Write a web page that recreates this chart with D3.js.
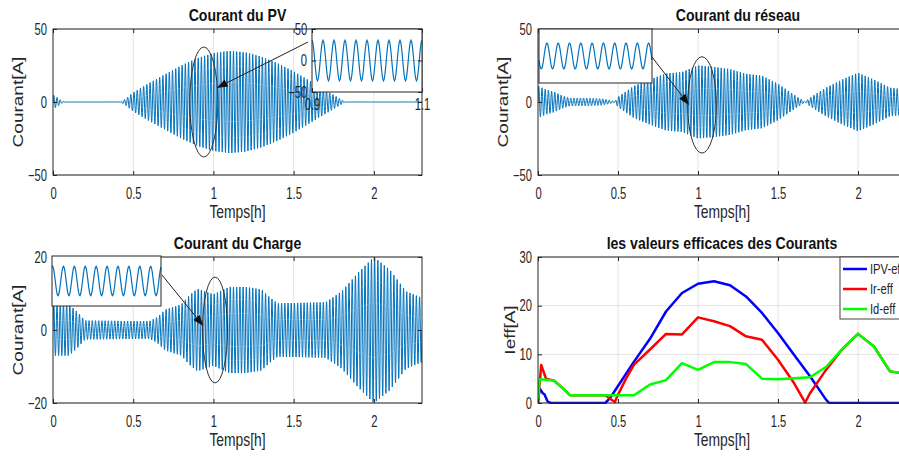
<!DOCTYPE html>
<html>
<head>
<meta charset="utf-8">
<script src="https://cdn.jsdelivr.net/npm/d3@7"></script>
<style>
  body { margin: 0; background: #fff; overflow: hidden; }
  svg { display: block; font-family: "Liberation Sans", Arial, sans-serif; }
</style>
</head>
<body>
<svg width="899" height="460"></svg>
<script>
// ---- values ----
const xDomain = [0, 2.3];
const xTicks = [0, 0.5, 1, 1.5, 2];
const cyclesPerHour = 50;

// envelope (peak amplitude) of the PV current
const pvEnvTime = [0, 0.005, 0.02, 0.035, 0.05, 0.08, 0.42, 0.45, 0.5, 0.6, 0.7, 0.8, 0.9, 1.0, 1.1, 1.2, 1.3, 1.4, 1.5, 1.6, 1.7, 1.8, 1.82, 2.3];
const pvEnvAmp  = [0, 4.5, 3.5, 2.5, 1, 0, 0, 2, 6.5, 13, 19, 25, 30, 33.5, 35, 34, 31, 26.5, 21, 14.5, 8, 1.5, 0, 0];

// envelope of the grid current
const gridEnvTime = [0, 0.05, 0.1, 0.15, 0.2, 0.3, 0.4, 0.45, 0.48, 0.5, 0.6, 0.7, 0.8, 0.9, 1.0, 1.1, 1.2, 1.3, 1.4, 1.5, 1.6, 1.67, 1.7, 1.8, 1.9, 2.0, 2.1, 2.2, 2.3];
const gridEnvAmp  = [11, 8.5, 7, 4.5, 2.7, 2.7, 2.3, 1.2, 0.3, 3.5, 11, 15.5, 19.5, 20.5, 25, 24, 22.5, 19.3, 18, 12.5, 5, 0.2, 3, 9.8, 15.3, 20, 15.3, 9.8, 8.5];

// envelope of the load current
const loadEnvTime = [0, 0.1, 0.15, 0.2, 0.6, 0.65, 0.7, 0.8, 0.85, 0.9, 1.0, 1.1, 1.2, 1.3, 1.35, 1.4, 1.7, 1.8, 1.9, 2.0, 2.1, 2.2, 2.3];
const loadEnvAmp  = [7, 7, 5, 2.6, 2.4, 3.5, 5.6, 7, 9.5, 11.3, 9.8, 11.8, 11.8, 11.1, 9, 7.3, 7.6, 10.6, 15.6, 20, 16.5, 10.6, 8.8];

// rms values
const rmsPvTime = [0, 0.01, 0.03, 0.04, 0.06, 0.08, 0.42, 0.45, 0.5, 0.6, 0.7, 0.8, 0.9, 1.0, 1.1, 1.2, 1.3, 1.4, 1.5, 1.6, 1.7, 1.8, 1.82, 2.3];
const rmsPvVal  = [0, 3, 2, 1.8, 0.3, 0, 0, 1, 3.5, 8.5, 13.2, 18.8, 22.6, 24.5, 25, 24.2, 21.9, 18.5, 14.4, 9.9, 5.5, 0.7, 0, 0];
const rmsGridTime = [0, 0.02, 0.05, 0.1, 0.15, 0.2, 0.42, 0.48, 0.5, 0.55, 0.6, 0.7, 0.8, 0.9, 1.0, 1.1, 1.2, 1.3, 1.4, 1.5, 1.6, 1.67, 1.7, 1.8, 1.9, 2.0, 2.1, 2.2, 2.3];
const rmsGridVal  = [0, 7.8, 5, 4.6, 3.2, 1.6, 1.6, 0.2, 1.7, 5, 7.9, 11, 14.2, 14.1, 17.6, 16.8, 15.8, 13.7, 13, 8.9, 4.1, 0.1, 2, 6.8, 11, 14.2, 11.6, 6.5, 6];
const rmsLoadTime = [0, 0.01, 0.05, 0.1, 0.15, 0.2, 0.6, 0.7, 0.8, 0.9, 1.0, 1.1, 1.2, 1.3, 1.4, 1.5, 1.6, 1.7, 1.8, 1.9, 2.0, 2.1, 2.2, 2.3];
const rmsLoadVal  = [0, 4.9, 4.8, 4.6, 3.2, 1.6, 1.6, 3.8, 4.7, 8.2, 6.8, 8.4, 8.4, 8.0, 5.0, 4.9, 5.1, 5.3, 7.4, 11, 14.2, 11.6, 6.5, 6];

const legendLabels = ["IPV-eff", "Ir-eff", "Id-eff"];
const rmsColors = ["#0000ff", "#ff0000", "#00ff00"];

// zoomed windows
const insetWindow = [0.9, 1.1];
const insetTicks = [0.9, 1.1];
const insetCycles = 10;
const pvInsetAmp = 32, gridInsetAmp = 24, loadInsetAmp = 10;

const titles = ["Courant du PV", "Courant du réseau", "Courant du Charge", "les valeurs efficaces des Courants"];
const xLabel = "Temps[h]";
const yLabels = ["Courant[A]", "Courant[A]", "Courant[A]", "Ieff[A]"];

// ---- layout ----
const svg = d3.select("svg");
const axisColor = "#262626";
const gridColor = "#e3e3e3";
const waveColor = "#0072bd";

const panels = [
  { x0: 53,  x1: 422, y0: 29,  y1: 175, yDom: [-50, 50], yTicks: [-50, 0, 50], titleShift: 0,  yLabelOff: 35 },
  { x0: 538, x1: 906, y0: 29,  y1: 175, yDom: [-50, 50], yTicks: [-50, 0, 50], titleShift: 16, yLabelOff: 35 },
  { x0: 53,  x1: 422, y0: 257, y1: 403, yDom: [-20, 20], yTicks: [-20, 0, 20], titleShift: 0,  yLabelOff: 35 },
  { x0: 538, x1: 906, y0: 257, y1: 403, yDom: [0, 30],   yTicks: [0, 10, 20, 30], titleShift: 0, yLabelOff: 28 },
];

function squashText(sel, x, y, sx, rot) {
  return sel.attr("transform", `translate(${x},${y}) scale(${sx},1)` + (rot ? ` rotate(${rot})` : ""));
}

function drawAxes(g, x, y, tickX, tickY, fontSize, sx, padX, padY, labels) {
  const bottom = g.append("g")
    .attr("transform", `translate(0,${y.range()[0]})`)
    .call(d3.axisBottom(x).tickValues(tickX).tickSizeInner(-4).tickSizeOuter(0).tickPadding(padX)
      .tickFormat(labels ? d3.format("") : ""));
  const top = g.append("g")
    .attr("transform", `translate(0,${y.range()[1]})`)
    .call(d3.axisTop(x).tickValues(tickX).tickSizeInner(-4).tickSizeOuter(0).tickFormat(""));
  const left = g.append("g")
    .attr("transform", `translate(${x.range()[0]},0)`)
    .call(d3.axisLeft(y).tickValues(tickY).tickSizeInner(-4).tickSizeOuter(0).tickPadding(padY)
      .tickFormat(labels ? d3.format("") : ""));
  const right = g.append("g")
    .attr("transform", `translate(${x.range()[1]},0)`)
    .call(d3.axisRight(y).tickValues(tickY).tickSizeInner(-4).tickSizeOuter(0).tickFormat(""));
  [bottom, top, left, right].forEach(a => {
    a.select(".domain").remove();
    a.selectAll("line").attr("stroke", axisColor);
    a.selectAll("text").attr("fill", axisColor).attr("font-size", fontSize)
      .attr("font-family", "Liberation Sans, Arial, sans-serif")
      .attr("transform", `scale(${sx},1)`);
  });
  g.append("rect")
    .attr("x", x.range()[0]).attr("y", y.range()[1])
    .attr("width", x.range()[1] - x.range()[0]).attr("height", y.range()[0] - y.range()[1])
    .attr("fill", "none").attr("stroke", axisColor).attr("stroke-width", 1);
}

function setupPanel(p, i) {
  const x = d3.scaleLinear().domain(xDomain).range([p.x0, p.x1]);
  const y = d3.scaleLinear().domain(p.yDom).range([p.y1, p.y0]);
  const g = svg.append("g");

  // grid
  g.append("g").selectAll("line.vg").data(xTicks.slice(1)).join("line")
    .attr("x1", d => x(d)).attr("x2", d => x(d)).attr("y1", p.y0).attr("y2", p.y1)
    .attr("stroke", gridColor).attr("stroke-width", 1);
  g.append("g").selectAll("line.hg").data(p.yTicks).join("line")
    .attr("x1", p.x0).attr("x2", p.x1).attr("y1", d => y(d)).attr("y2", d => y(d))
    .attr("stroke", gridColor).attr("stroke-width", 1);

  svg.append("clipPath").attr("id", "clip" + i).append("rect")
    .attr("x", p.x0).attr("y", p.y0 - 1).attr("width", p.x1 - p.x0).attr("height", p.y1 - p.y0 + 2);
  const plot = g.append("g").attr("clip-path", `url(#clip${i})`);

  const axes = svg.append("g");
  const cx = (p.x0 + p.x1) / 2;

  // title
  squashText(axes.append("text"), cx + p.titleShift, p.y0 - 8, 0.88)
    .attr("text-anchor", "middle").attr("font-weight", "bold").attr("font-size", 16)
    .attr("fill", "#111").text(titles[i]);
  // x label
  squashText(axes.append("text"), cx, p.y1 + 43, 0.73)
    .attr("text-anchor", "middle").attr("font-size", 19).attr("fill", axisColor).text(xLabel);
  // y label
  squashText(axes.append("text"), p.x0 - p.yLabelOff, (p.y0 + p.y1) / 2, 0.73, -90)
    .attr("text-anchor", "middle").attr("dy", "0.35em").attr("font-size", 19)
    .attr("fill", axisColor).text(yLabels[i]);

  return { x, y, plot, axes, p };
}

function waveform(envTime, envAmp, t0, t1, cycles, phase) {
  const env = d3.scaleLinear().domain(envTime).range(envAmp).clamp(true);
  const n = Math.round(cycles * 16);
  return d3.range(n + 1).map(k => {
    const t = t0 + (t1 - t0) * k / n;
    return [t, env(t) * Math.sin(2 * Math.PI * (cycles * k / n + phase))];
  });
}

function drawWave(panel, envTime, envAmp) {
  const data = waveform(envTime, envAmp, xDomain[0], xDomain[1], cyclesPerHour * (xDomain[1] - xDomain[0]), 0);
  const line = d3.line().x(d => panel.x(d[0])).y(d => panel.y(d[1]));
  panel.plot.append("path").datum(data)
    .attr("d", line).attr("fill", "none").attr("stroke", waveColor).attr("stroke-width", 1);
}

function drawInset(panel, box, amp, yDom, phase, withTicks) {
  const ix = d3.scaleLinear().domain(insetWindow).range([box.x, box.x + box.w]);
  const iy = d3.scaleLinear().domain(yDom).range([box.y + box.h, box.y]);
  const g = panel.axes.append("g");
  g.append("rect").attr("x", box.x).attr("y", box.y).attr("width", box.w).attr("height", box.h)
    .attr("fill", "#fff");
  if (withTicks) {
    g.append("line").attr("x1", box.x).attr("x2", box.x + box.w)
      .attr("y1", iy(0)).attr("y2", iy(0)).attr("stroke", "#d0d0d0");
  }
  const data = waveform(insetWindow, [amp, amp], insetWindow[0], insetWindow[1], insetCycles, phase);
  g.append("path").datum(data)
    .attr("d", d3.line().x(d => ix(d[0])).y(d => iy(d[1])))
    .attr("fill", "none").attr("stroke", waveColor).attr("stroke-width", 1.2);
  if (withTicks) {
    drawAxes(g, ix, iy, insetTicks, [yDom[0], 0, yDom[1]], 16, 0.7, 7, 7, true);
  } else {
    g.append("rect").attr("x", box.x).attr("y", box.y).attr("width", box.w).attr("height", box.h)
      .attr("fill", "none").attr("stroke", axisColor).attr("stroke-width", 1);
  }
}

function drawCallout(panel, ell, head, tail) {
  const g = panel.axes.append("g");
  const x = panel.x, y = panel.y;
  g.append("ellipse")
    .attr("cx", x(ell.t)).attr("cy", y(ell.v))
    .attr("rx", x(ell.t + ell.dt) - x(ell.t)).attr("ry", y(ell.v) - y(ell.v + ell.dv))
    .attr("fill", "none").attr("stroke", "#333").attr("stroke-width", 1);
  const hx = x(head.t), hy = y(head.v);
  const ang = Math.atan2(hy - tail[1], hx - tail[0]);
  const len = 11, half = 4;
  const bx = hx - len * Math.cos(ang), by = hy - len * Math.sin(ang);
  g.append("line").attr("x1", tail[0]).attr("y1", tail[1]).attr("x2", bx).attr("y2", by)
    .attr("stroke", "#222").attr("stroke-width", 1);
  g.append("path")
    .attr("d", `M${hx},${hy} L${bx - half * Math.sin(ang)},${by + half * Math.cos(ang)} L${bx + half * Math.sin(ang)},${by - half * Math.cos(ang)} Z`)
    .attr("fill", "#111");
}

const P = panels.map(setupPanel);

// waveforms
drawWave(P[0], pvEnvTime, pvEnvAmp);
drawWave(P[1], gridEnvTime, gridEnvAmp);
drawWave(P[2], loadEnvTime, loadEnvAmp);

// rms curves
[[rmsPvTime, rmsPvVal], [rmsGridTime, rmsGridVal], [rmsLoadTime, rmsLoadVal]].forEach((s, k) => {
  const data = s[0].map((t, j) => [t, s[1][j]]);
  P[3].plot.append("path").datum(data)
    .attr("d", d3.line().x(d => P[3].x(d[0])).y(d => P[3].y(d[1])))
    .attr("fill", "none").attr("stroke", rmsColors[k]).attr("stroke-width", 2.5)
    .attr("stroke-linejoin", "round");
});

// axes of the main panels
P.forEach((pp, i) => drawAxes(pp.axes, pp.x, pp.y, xTicks, pp.p.yTicks, 16, 0.7, 13, 8.5, true));

// callouts and zoomed windows
drawCallout(P[0], { t: 0.94, v: 0, dt: 0.0875, dv: 37.7 }, { t: 1.02, v: 9.6 }, [308, 42]);
drawInset(P[0], { x: 312, y: 29, w: 110, h: 63 }, pvInsetAmp, [-50, 50], 0.25, true);

drawCallout(P[1], { t: 1.025, v: -2, dt: 0.09, dv: 33 }, { t: 0.944, v: -2 }, [652, 57]);
drawInset(P[1], { x: 539, y: 29, w: 113, h: 54 }, gridInsetAmp, [-50, 50], 0.55, false);

drawCallout(P[2], { t: 1.01, v: 0, dt: 0.078, dv: 14.5 }, { t: 0.9375, v: 1.1 }, [162, 275]);
drawInset(P[2], { x: 52, y: 256, w: 109, h: 50 }, loadInsetAmp, [-17, 17], 0.2, false);

// legend
const lg = svg.append("g");
lg.append("rect").attr("x", 840).attr("y", 257).attr("width", 66).attr("height", 62)
  .attr("fill", "#fff").attr("stroke", "#444").attr("stroke-width", 1);
legendLabels.forEach((lab, k) => {
  const ly = 269 + k * 20;
  lg.append("line").attr("x1", 843).attr("x2", 867).attr("y1", ly).attr("y2", ly)
    .attr("stroke", rmsColors[k]).attr("stroke-width", 2.5);
  squashText(lg.append("text"), 870, ly, 0.8)
    .attr("dy", "0.35em").attr("font-size", 14).attr("fill", axisColor).text(lab);
});
</script>
</body>
</html>
